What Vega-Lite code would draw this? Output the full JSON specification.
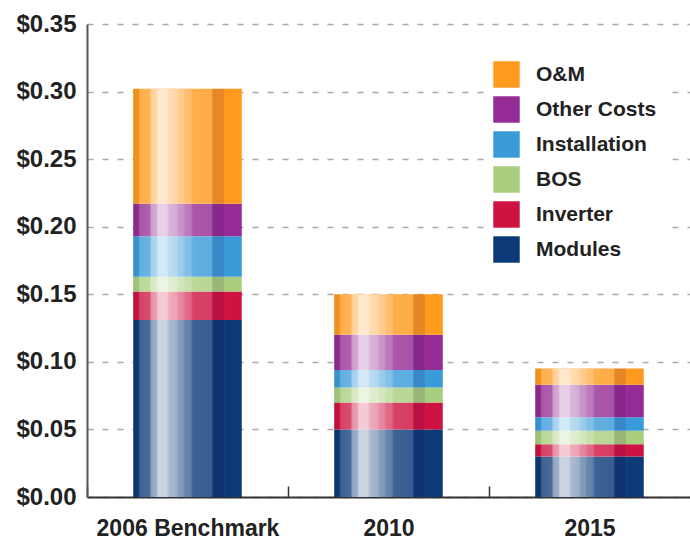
{
  "$schema": "https://vega.github.io/schema/vega-lite/v6.json",
  "autosize": "none",
  "padding": {"left": 87, "top": 24, "right": 0, "bottom": 46},
  "width": 603,
  "height": 473,
  "background": "white",
  "config": {
    "view": {"stroke": null},
    "font": "Liberation Sans, Arial, sans-serif"
  },
  "datasets": {
    "costs": [
      {"year": "2006 Benchmark", "component": "Modules", "cost": 0.131},
      {"year": "2006 Benchmark", "component": "Inverter", "cost": 0.021},
      {"year": "2006 Benchmark", "component": "BOS", "cost": 0.011},
      {"year": "2006 Benchmark", "component": "Installation", "cost": 0.030},
      {"year": "2006 Benchmark", "component": "Other Costs", "cost": 0.024},
      {"year": "2006 Benchmark", "component": "O&M", "cost": 0.085},
      {"year": "2010", "component": "Modules", "cost": 0.050},
      {"year": "2010", "component": "Inverter", "cost": 0.020},
      {"year": "2010", "component": "BOS", "cost": 0.011},
      {"year": "2010", "component": "Installation", "cost": 0.013},
      {"year": "2010", "component": "Other Costs", "cost": 0.026},
      {"year": "2010", "component": "O&M", "cost": 0.030},
      {"year": "2015", "component": "Modules", "cost": 0.030},
      {"year": "2015", "component": "Inverter", "cost": 0.009},
      {"year": "2015", "component": "BOS", "cost": 0.010},
      {"year": "2015", "component": "Installation", "cost": 0.010},
      {"year": "2015", "component": "Other Costs", "cost": 0.024},
      {"year": "2015", "component": "O&M", "cost": 0.012}
    ],
    "components": [
      {"component": "Modules", "level": 1},
      {"component": "Inverter", "level": 2},
      {"component": "BOS", "level": 3},
      {"component": "Installation", "level": 4},
      {"component": "Other Costs", "level": 5},
      {"component": "O&M", "level": 6}
    ]
  },
  "data": {"name": "costs"},
  "transform": [
    {"lookup": "component", "from": {"data": {"name": "components"}, "key": "component", "fields": ["level"]}}
  ],
  "encoding": {
    "x": {
      "field": "year",
      "type": "nominal",
      "sort": null,
      "scale": {"paddingInner": 0.46, "paddingOuter": 0.23},
      "axis": {
        "title": null,
        "labelAngle": 0,
        "labelFont": "Liberation Sans, Arial, sans-serif",
        "labelFontSize": 23,
        "labelFontWeight": "bold",
        "labelColor": "#222",
        "labelPadding": 31,
        "labelLimit": 0,
        "labelOffset": 101,
        "domainColor": "#333",
        "domainWidth": 2,
        "tickColor": "#333",
        "tickWidth": 1.5,
        "tickSize": -11,
        "tickOffset": -101,
        "grid": false
      }
    }
  },
  "layer": [
    {
      "mark": {"type": "bar"},
      "encoding": {
        "y": {
          "field": "cost",
          "type": "quantitative",
          "stack": "zero",
          "scale": {"domain": [0, 0.35], "nice": false},
          "axis": {
            "title": null,
            "values": [0, 0.05, 0.1, 0.15, 0.2, 0.25, 0.3, 0.35],
            "format": "$.2f",
            "labelFont": "Liberation Sans, Arial, sans-serif",
            "labelFontSize": 24,
            "labelFontWeight": "bold",
            "labelColor": "#222",
            "labelPadding": 11,
            "ticks": false,
            "domainColor": "#555",
            "domainWidth": 2,
            "grid": true,
            "gridColor": "#aaaaaa",
            "gridDash": [6, 9],
            "gridWidth": 1.5
          }
        },
        "order": {"field": "level", "type": "quantitative", "sort": "ascending"},
        "color": {
          "field": "component",
          "type": "nominal",
          "sort": ["O&M", "Other Costs", "Installation", "BOS", "Inverter", "Modules"],
          "scale": {
            "domain": ["O&M", "Other Costs", "Installation", "BOS", "Inverter", "Modules"],
            "range": ["#FF9A1E", "#952C95", "#3A9BD9", "#A9CF7E", "#CE1241", "#0C3A78"]
          },
          "legend": {
            "title": null,
            "orient": "none",
            "legendX": 398,
            "legendY": 29,
            "symbolType": "square",
            "symbolSize": 700,
            "symbolStrokeWidth": 0,
            "symbolOpacity": 1,
            "rowPadding": 8,
            "labelOffset": 16,
            "labelFont": "Liberation Sans, Arial, sans-serif",
            "labelFontSize": 21,
            "labelFontWeight": "bold",
            "labelColor": "#222",
            "labelLimit": 0,
            "fillColor": "white",
            "padding": 8
          }
        }
      }
    },
    {
      "mark": {
        "type": "bar",
        "fill": {
          "gradient": "linear",
          "x1": 0, "y1": 0, "x2": 1, "y2": 0,
          "stops": [
            {"offset": 0, "color": "rgba(0,0,0,0.08)"},
            {"offset": 0.04, "color": "rgba(0,0,0,0.05)"},
            {"offset": 0.06, "color": "rgba(255,255,255,0.2)"},
            {"offset": 0.15, "color": "rgba(255,255,255,0.25)"},
            {"offset": 0.17, "color": "rgba(255,255,255,0.55)"},
            {"offset": 0.21, "color": "rgba(255,255,255,0.58)"},
            {"offset": 0.23, "color": "rgba(255,255,255,0.78)"},
            {"offset": 0.31, "color": "rgba(255,255,255,0.78)"},
            {"offset": 0.33, "color": "rgba(255,255,255,0.65)"},
            {"offset": 0.40, "color": "rgba(255,255,255,0.6)"},
            {"offset": 0.42, "color": "rgba(255,255,255,0.5)"},
            {"offset": 0.46, "color": "rgba(255,255,255,0.48)"},
            {"offset": 0.48, "color": "rgba(255,255,255,0.38)"},
            {"offset": 0.53, "color": "rgba(255,255,255,0.36)"},
            {"offset": 0.55, "color": "rgba(255,255,255,0.2)"},
            {"offset": 0.72, "color": "rgba(255,255,255,0.18)"},
            {"offset": 0.74, "color": "rgba(40,0,80,0.12)"},
            {"offset": 0.83, "color": "rgba(40,0,80,0.12)"},
            {"offset": 0.85, "color": "rgba(255,255,255,0)"},
            {"offset": 1, "color": "rgba(255,255,255,0)"}
          ]
        }
      },
      "encoding": {
        "y": {"aggregate": "sum", "field": "cost", "type": "quantitative"}
      }
    }
  ]
}
